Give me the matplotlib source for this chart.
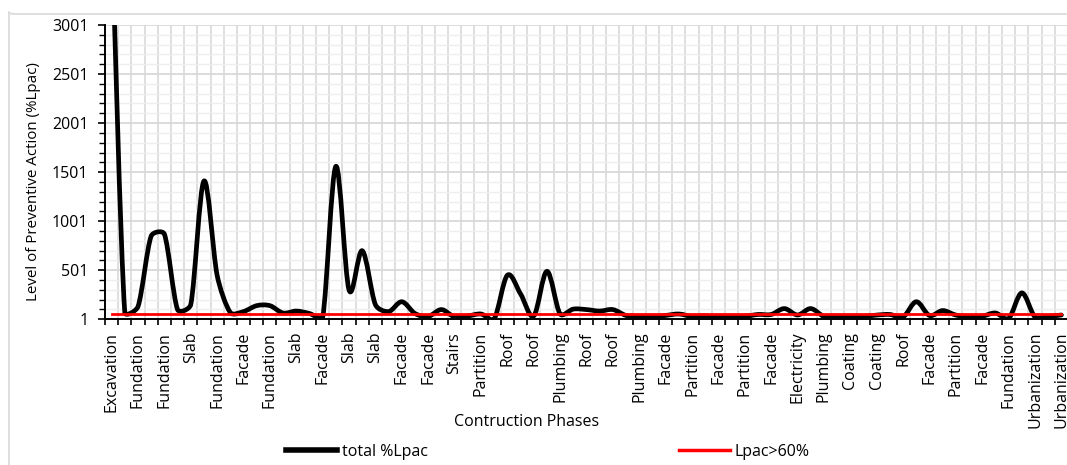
import numpy as np
import matplotlib
matplotlib.use("Agg")
from matplotlib import pyplot as plt
from matplotlib.path import Path
from matplotlib.patches import PathPatch, FancyBboxPatch
from matplotlib.lines import Line2D

plt.rcParams['font.family'] = ['Open Sans', 'DejaVu Sans']

# label shown under every second category
phase_labels = ['Excavation', 'Fundation', 'Fundation', 'Slab', 'Fundation', 'Facade',
                'Fundation', 'Slab', 'Facade', 'Slab', 'Slab', 'Facade', 'Facade',
                'Stairs', 'Partition', 'Roof', 'Roof', 'Plumbing', 'Roof', 'Roof',
                'Plumbing', 'Facade', 'Partition', 'Facade', 'Partition', 'Facade',
                'Electricity', 'Plumbing', 'Coating', 'Coating', 'Roof', 'Facade',
                'Partition', 'Facade', 'Fundation', 'Urbanization', 'Urbanization']

# total %Lpac per activity (73 activities)
total_lpac = [4000, 70, 130, 850, 870, 100, 150, 1410, 450, 70,
              80, 140, 140, 65, 85, 60, 20, 1560, 300, 700,
              150, 80, 180, 60, 30, 100, 25, 35, 55, 5,
              450, 260, 35, 490, 55, 105, 100, 85, 100, 40,
              30, 25, 40, 55, 30, 35, 20, 25, 30, 50,
              50, 110, 45, 110, 30, 20, 27, 30, 44, 50,
              25, 180, 40, 90, 44, 27, 33, 65, 10, 270,
              25, 30, 45]
threshold = 60

y_min, y_max = 1, 3001


def smooth_path(ax, xs, ys):
    # excel style smoothed line (bezier), worked out in screen space
    pts = ax.transData.transform(np.column_stack([xs, ys]).astype(float))
    n = len(pts)
    verts = [pts[0]]
    codes = [Path.MOVETO]
    for i in range(n - 1):
        seg = np.hypot(*(pts[i + 1] - pts[i]))
        a = (pts[min(i + 1, n - 1)] - pts[max(i - 1, 0)]) / 6
        b = (pts[min(i + 2, n - 1)] - pts[i]) / 6
        # keep handles from overshooting on short segments
        la, lb = np.hypot(*a), np.hypot(*b)
        if la > seg / 3:
            a = a * (seg / 3) / la
        if lb > seg / 3:
            b = b * (seg / 3) / lb
        verts += [pts[i] + a, pts[i + 1] - b, pts[i + 1]]
        codes += [Path.CURVE4] * 3
    verts = ax.transData.inverted().transform(np.array(verts))
    return Path(verts, codes)


fig = plt.figure(figsize=(10.67, 4.65), dpi=100)
fig.patches.append(FancyBboxPatch((9 / 1067, 1 - 14 / 465), 1.1, -1.2,
                                  boxstyle='round,pad=0,rounding_size=0.005',
                                  transform=fig.transFigure, fill=False,
                                  edgecolor='#d9d9d9', linewidth=1.2))
ax = fig.add_axes([105 / 1067, 1 - 319.3 / 465, 963 / 1067, 294.3 / 465])

n = len(total_lpac)
x = np.arange(n)
ax.set_xlim(-0.5, n - 0.5)
ax.set_ylim(y_min, y_max)

ax.add_patch(PathPatch(smooth_path(ax, x, total_lpac), fill=False, edgecolor='black',
                       linewidth=3.4, capstyle='round', joinstyle='round', zorder=4))
ax.plot(x, [threshold] * n, color='#ff0000', linewidth=2.0, zorder=5)

ax.set_xticks(np.arange(-0.5, n, 1))
ax.set_xticklabels([])
ax.set_xticks(np.arange(0, n, 2), minor=True)
ax.set_xticklabels(phase_labels, minor=True, rotation=90, va='top', ha='center')
ax.tick_params(axis='x', which='major', direction='out', length=4, width=1.2, color='black')
ax.tick_params(axis='x', which='minor', length=0, pad=9, labelsize=11.5)

ax.set_yticks(np.arange(y_min, y_max + 1, 500))
ax.set_yticks(np.arange(y_min, y_max + 1, 100), minor=True)
ax.tick_params(axis='y', which='major', direction='out', length=5, width=1.2,
               color='black', labelsize=11.5, pad=7)
ax.tick_params(axis='y', which='minor', direction='out', length=4, width=1.0, color='black')

ax.grid(True, axis='x', which='major', color='#d9d9d9', linewidth=1.2)
ax.grid(True, axis='y', which='major', color='#d9d9d9', linewidth=1.3)
ax.grid(True, axis='y', which='minor', color='#eeeeee', linewidth=1.0)
ax.set_axisbelow(True)

for side in ['top', 'right']:
    ax.spines[side].set_visible(False)
for side in ['left', 'bottom']:
    ax.spines[side].set_color('black')
    ax.spines[side].set_linewidth(1.4)
    ax.spines[side].set_zorder(6)

ax.set_xlabel('Contruction Phases', fontsize=11.5)
ax.xaxis.set_label_coords((527 - 105) / 963, -(422 - 319.3) / 294.3)
ax.xaxis.label.set_va('center')
ax.set_ylabel('Level of Preventive Action (%Lpac)', fontsize=10.9)
ax.yaxis.set_label_coords((33 - 105) / 963, (319.3 - 182) / 294.3)
ax.yaxis.label.set_va('center')

handles = [Line2D([], [], color='black', linewidth=4.0),
           Line2D([], [], color='#ff0000', linewidth=2.5)]
fig.legend(handles, ['total %Lpac', 'Lpac>60%'], loc='center left',
           bbox_to_anchor=(272 / 1067, 1 - 452 / 465), ncol=2, frameon=False,
           handlelength=3.2, handletextpad=0.3, columnspacing=15.7, fontsize=11.5)

fig.savefig('out.png', dpi=100)
